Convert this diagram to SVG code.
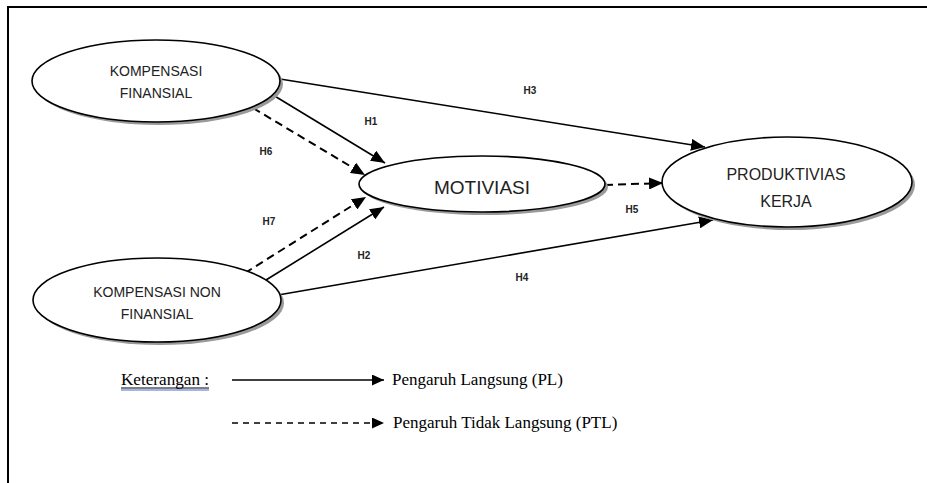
<svg xmlns="http://www.w3.org/2000/svg" width="927" height="483" viewBox="0 0 927 483">
<style>
.sh{fill:#9a9a9a;stroke:none}
.el{fill:#fff;stroke:#000;stroke-width:1.6}
.nt{font-family:"Liberation Sans",Arial,sans-serif;fill:#222;text-anchor:middle}
.ln{stroke:#000;stroke-width:1.6;fill:none}
.ds{stroke:#000;stroke-width:2;fill:none;stroke-dasharray:8 5}
.hl{font-family:"Liberation Sans",Arial,sans-serif;font-size:10px;font-weight:bold;fill:#222;text-anchor:middle}
.lg{font-family:"Liberation Serif","Times New Roman",serif;font-size:17px;fill:#000}
</style>
<defs>
<marker id="ah" markerUnits="userSpaceOnUse" markerWidth="14" markerHeight="12" refX="14" refY="6" orient="auto">
<path d="M0,0 L14,6 L0,12 z" fill="#000"/>
</marker>
<marker id="ahs" markerUnits="userSpaceOnUse" markerWidth="12" markerHeight="11" refX="12" refY="5.5" orient="auto">
<path d="M0,0 L12,5.5 L0,11 z" fill="#000"/>
</marker>
</defs>
<rect width="927" height="483" fill="#fff"/>
<path d="M8,483 V7 H927" fill="none" stroke="#000" stroke-width="2"/>

<g id="connectors">
<line class="ln" x1="273" y1="95" x2="385" y2="163" marker-end="url(#ah)"/>
<line class="ds" x1="253" y1="108" x2="365" y2="175" marker-end="url(#ah)"/>
<line class="ds" x1="245" y1="273" x2="366" y2="197" marker-end="url(#ah)"/>
<line class="ln" x1="266" y1="280" x2="384" y2="207" marker-end="url(#ah)"/>
<line class="ln" x1="280" y1="79" x2="705" y2="147" marker-end="url(#ah)"/>
<line class="ln" x1="278" y1="295" x2="713" y2="220" marker-end="url(#ah)"/>
<line class="ds" x1="605" y1="185" x2="663" y2="183" marker-end="url(#ah)"/>
<text class="hl" x="371" y="125">H1</text>
<text class="hl" x="266" y="155">H6</text>
<text class="hl" x="269" y="225">H7</text>
<text class="hl" x="364" y="259">H2</text>
<text class="hl" x="530" y="94">H3</text>
<text class="hl" x="522" y="281">H4</text>
<text class="hl" x="632" y="213">H5</text>
</g>

<g id="kompensasi-finansial">
<ellipse class="sh" cx="159" cy="84" rx="124" ry="41"/>
<ellipse class="el" cx="156" cy="81" rx="124" ry="41"/>
<text class="nt" x="156" y="76" font-size="14">KOMPENSASI</text>
<text class="nt" x="156" y="98" font-size="14">FINANSIAL</text>
</g>

<g id="motiviasi">
<ellipse class="sh" cx="485" cy="187" rx="123" ry="28"/>
<ellipse class="el" cx="482" cy="184" rx="123" ry="28"/>
<text class="nt" x="482" y="194" font-size="19">MOTIVIASI</text>
</g>

<g id="produktivias-kerja">
<ellipse class="sh" cx="790" cy="185" rx="125" ry="45"/>
<ellipse class="el" cx="787" cy="182" rx="125" ry="45"/>
<text class="nt" x="786" y="180" font-size="16">PRODUKTIVIAS</text>
<text class="nt" x="786" y="207" font-size="16">KERJA</text>
</g>

<g id="kompensasi-non-finansial">
<ellipse class="sh" cx="160" cy="303" rx="124" ry="42"/>
<ellipse class="el" cx="157" cy="300" rx="124" ry="42"/>
<text class="nt" x="157" y="297" font-size="14">KOMPENSASI NON</text>
<text class="nt" x="157" y="319" font-size="14">FINANSIAL</text>
</g>

<g id="legend">
<text class="lg" x="121" y="385" textLength="88" lengthAdjust="spacingAndGlyphs">Keterangan :</text>
<line x1="121" y1="388" x2="209" y2="388" stroke="#000" stroke-width="1"/>
<line x1="121" y1="390" x2="209" y2="390" stroke="#4a6fd0" stroke-width="1.2"/>
<line class="ln" x1="232" y1="380" x2="384" y2="380" marker-end="url(#ahs)"/>
<text class="lg" x="392" y="385">Pengaruh Langsung (PL)</text>
<line x1="232" y1="423" x2="384" y2="423" stroke="#000" stroke-width="1.6" stroke-dasharray="6 5" marker-end="url(#ahs)"/>
<text class="lg" x="393" y="428">Pengaruh Tidak Langsung (PTL)</text>
</g>
</svg>
